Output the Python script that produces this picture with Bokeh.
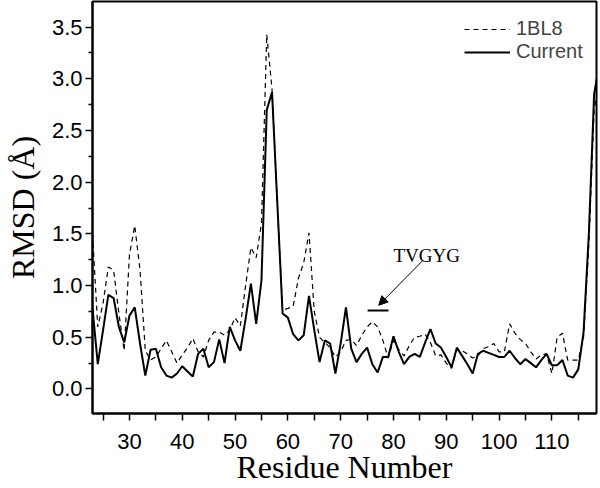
from bokeh.plotting import figure
from bokeh.models import Range1d, FixedTicker, Legend, LegendItem, Arrow, NormalHead, Label, PrintfTickFormatter
from bokeh.embed import file_html
from bokeh.resources import INLINE

residues = list(range(23, 120))

bl8 = [1.50, 0.60, 0.83, 1.18, 1.15, 0.73, 0.37, 1.30, 1.58, 1.15,
       0.37, 0.28, 0.31, 0.39, 0.47, 0.36, 0.25, 0.33, 0.40, 0.49,
       0.36, 0.31, 0.47, 0.55, 0.55, 0.52, 0.57, 0.69, 0.61, 1.00,
       1.37, 1.27, 1.60, 3.43, 2.90, 1.80, 0.76, 0.78, 0.80, 1.07,
       1.22, 1.51, 0.75, 0.50, 0.45, 0.40, 0.31, 0.36, 0.47, 0.48,
       0.42, 0.52, 0.60, 0.65, 0.60, 0.47, 0.30, 0.47, 0.38, 0.32,
       0.42, 0.50, 0.51, 0.53, 0.45, 0.32, 0.33, 0.25, 0.20, 0.38,
       0.37, 0.34, 0.30, 0.32, 0.39, 0.41, 0.44, 0.36, 0.36, 0.63,
       0.54, 0.48, 0.44, 0.36, 0.29, 0.33, 0.34, 0.15, 0.50, 0.54,
       0.28, 0.28, 0.28, 0.50, 1.40, 2.70, 3.00]

current = [0.78, 0.24, 0.57, 0.91, 0.88, 0.60, 0.45, 0.71, 0.79, 0.44,
           0.13, 0.38, 0.39, 0.21, 0.13, 0.11, 0.15, 0.22, 0.17, 0.12,
           0.34, 0.39, 0.21, 0.26, 0.48, 0.25, 0.60, 0.47, 0.37, 0.68,
           1.02, 0.63, 1.05, 2.70, 2.87, 1.80, 0.73, 0.69, 0.53, 0.47,
           0.52, 0.90, 0.57, 0.26, 0.47, 0.44, 0.15, 0.44, 0.79, 0.39,
           0.26, 0.34, 0.40, 0.24, 0.16, 0.31, 0.31, 0.51, 0.36, 0.24,
           0.31, 0.34, 0.31, 0.45, 0.58, 0.44, 0.40, 0.31, 0.21, 0.40,
           0.32, 0.24, 0.15, 0.34, 0.37, 0.35, 0.33, 0.31, 0.31, 0.37,
           0.30, 0.24, 0.29, 0.25, 0.21, 0.28, 0.34, 0.23, 0.23, 0.28,
           0.13, 0.11, 0.19, 0.55, 1.50, 2.85, 3.15]

x_ticks = [30, 40, 50, 60, 70, 80, 90, 100, 110]
x_minor = [25, 35, 45, 55, 65, 75, 85, 95, 105, 115]
y_ticks = [0.0, 0.5, 1.0, 1.5, 2.0, 2.5, 3.0, 3.5]
y_minor = [0.25, 0.75, 1.25, 1.75, 2.25, 2.75, 3.25]

series_names = ["1BL8", "Current"]
annotation_text = "TVGYG"
x_title = "Residue Number"
y_title = "RMSD (Å)"

SANS = "Liberation Sans"
SERIF = "Liberation Serif"

p = figure(width=600, height=488,
           x_range=Range1d(23, 118.45), y_range=Range1d(-0.237, 3.748),
           output_backend="svg", toolbar_location=None,
           min_border_left=92, min_border_right=4,
           min_border_top=1, min_border_bottom=75)

p.grid.visible = False
p.outline_line_color = "black"
p.outline_line_width = 2
p.background_fill_color = "white"
p.border_fill_color = "white"

r_dash = p.line(residues, bl8, line_color="black", line_width=1.2, line_dash="5 4")
r_solid = p.line(residues, current, line_color="black", line_width=2)

# TVGYG marker
p.segment(x0=[75.1], y0=[0.76], x1=[79.05], y1=[0.76], line_color="black", line_width=2)
p.add_layout(Arrow(end=NormalHead(size=9, fill_color="black", line_color="black"),
                   x_start=85.5, y_start=1.24, x_end=77.2, y_end=0.81,
                   line_color="black", line_width=1))
p.add_layout(Label(x=80.0, y=1.29, text=annotation_text, text_font=SERIF,
                   text_font_size="19px", text_color="black", text_baseline="alphabetic"))

for ax in p.axis:
    ax.axis_line_width = 2
    ax.axis_line_color = "black"
    ax.major_tick_in = 0
    ax.minor_tick_in = 0
    ax.major_tick_line_width = 1.5
    ax.minor_tick_line_width = 1.5
    ax.major_label_text_font = SANS
    ax.major_label_text_font_size = "22px"
    ax.major_label_text_color = "black"
    ax.axis_label_text_font = SERIF
    ax.axis_label_text_font_size = "32px"
    ax.axis_label_text_font_style = "normal"
    ax.axis_label_text_color = "black"

p.xaxis.ticker = FixedTicker(ticks=x_ticks, minor_ticks=x_minor)
p.yaxis.ticker = FixedTicker(ticks=y_ticks, minor_ticks=y_minor)
p.yaxis.formatter = PrintfTickFormatter(format="%.1f")
p.xaxis.major_tick_out = 7
p.xaxis.minor_tick_out = 7
p.yaxis.major_tick_out = 7
p.yaxis.minor_tick_out = 4
p.xaxis.major_label_standoff = 13
p.yaxis.major_label_standoff = 3
p.xaxis.axis_label = x_title
p.yaxis.axis_label = y_title
p.xaxis.axis_label_standoff = -3
p.yaxis.axis_label_standoff = 8

legend = Legend(items=[LegendItem(label=series_names[0], renderers=[r_dash]),
                       LegendItem(label=series_names[1], renderers=[r_solid])],
                location=(372, 350), margin=0, padding=0, spacing=0,
                glyph_width=46, glyph_height=20, label_height=20, label_standoff=6,
                label_text_font=SANS, label_text_font_size="20px",
                border_line_color=None, background_fill_alpha=0)
p.add_layout(legend)

open("out.html", "w").write(file_html(p, INLINE))
